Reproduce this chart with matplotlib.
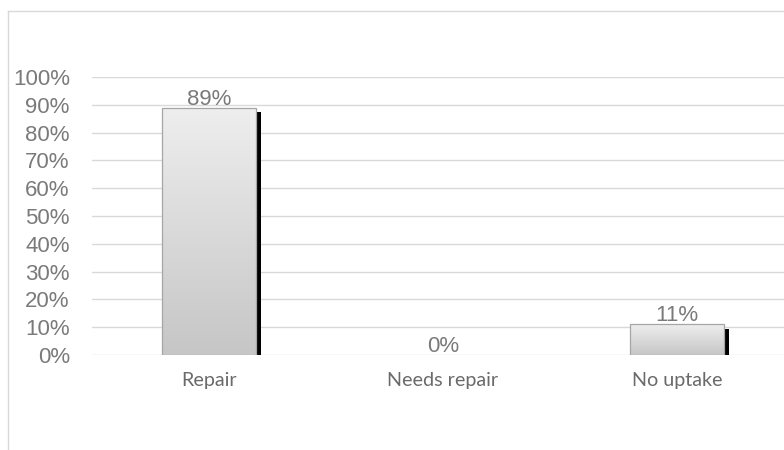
import numpy as np
import matplotlib
matplotlib.use("Agg")
import matplotlib.pyplot as plt
from matplotlib.patches import Rectangle
from matplotlib.lines import Line2D
from matplotlib.colors import LinearSegmentedColormap

categories = ["Repair", "Needs repair", "No uptake"]
values = [0.89, 0.00, 0.11]
value_labels = ["89%", "0%", "11%"]
yticks = [0.0, 0.1, 0.2, 0.3, 0.4, 0.5, 0.6, 0.7, 0.8, 0.9, 1.0]
ytick_labels = ["0%", "10%", "20%", "30%", "40%", "50%", "60%", "70%", "80%", "90%", "100%"]

W, H = 784, 450
fig = plt.figure(figsize=(W / 100, H / 100), dpi=100)
fig.patch.set_facecolor("white")

# axes position in pixels
left_px, right_px = 92, 794
bottom_px, top_px = 355, 77
ax = fig.add_axes([left_px / W, (H - bottom_px) / H, (right_px - left_px) / W, (bottom_px - top_px) / H])
ax.set_xlim(-0.5, 2.5)
ax.set_ylim(0, 1.0)
for s in ax.spines.values():
    s.set_visible(False)

ax.set_yticks(yticks)
ax.set_yticklabels(ytick_labels, fontfamily="Liberation Sans", fontsize=16, color="#7a7a7a")
ax.yaxis.grid(True, color="#d9d9d9", linewidth=1.0)
ax.set_axisbelow(True)
ax.tick_params(axis="y", length=0, pad=16)
x = np.arange(len(categories))
ax.set_xticks(x)
ax.set_xticklabels(categories, fontfamily="Lato", fontsize=14.2, color="#6a6a6a")
ax.tick_params(axis="x", length=0, pad=12)

bar_w = 0.40
px_x = 3.0 / (right_px - left_px)  # data units per pixel in x
px_y = 1.0 / (bottom_px - top_px)
cmap = LinearSegmentedColormap.from_list("g", ["#c6c6c6", "#eeeeee"])
grad = np.linspace(0, 1, 256).reshape(-1, 1)

for xi, v, lab in zip(x, values, value_labels):
    if v > 0:
        x0 = xi - bar_w / 2
        # shadow
        ax.add_patch(Rectangle((x0 + bar_w, 0), 5 * px_x, v - 4.5 * px_y,
                               facecolor="black", edgecolor="none", zorder=2))
        ax.add_patch(Rectangle((x0 + 5 * px_x, -1 * px_y), bar_w, 1.5 * px_y,
                               facecolor="#555555", edgecolor="none", zorder=2))
        im = ax.imshow(grad, cmap=cmap, aspect="auto", origin="lower",
                       extent=[x0, x0 + bar_w, 0, v], zorder=3)
        rect = Rectangle((x0, 0), bar_w, v, facecolor="none", edgecolor="#a6a6a6",
                         linewidth=0.9, zorder=4)
        ax.add_patch(rect)
        im.set_clip_path(rect)
    ax.annotate(lab, (xi, v), xytext=(0, 3), textcoords="offset pixels",
                ha="center", va="baseline", fontfamily="Liberation Sans",
                fontsize=16, color="#7a7a7a", zorder=5)

ax.set_xlim(-0.5, 2.5)
ax.set_ylim(0, 1.0)

# outer frame (top and left visible)
fig.add_artist(Line2D([7.5 / W, 7.5 / W], [0, 1 - 10.5 / H], transform=fig.transFigure,
                      color="#d9d9d9", linewidth=1.0))
fig.add_artist(Line2D([7.5 / W, 1], [1 - 10.5 / H, 1 - 10.5 / H], transform=fig.transFigure,
                      color="#d9d9d9", linewidth=1.0))

fig.savefig("out.png", dpi=100)
